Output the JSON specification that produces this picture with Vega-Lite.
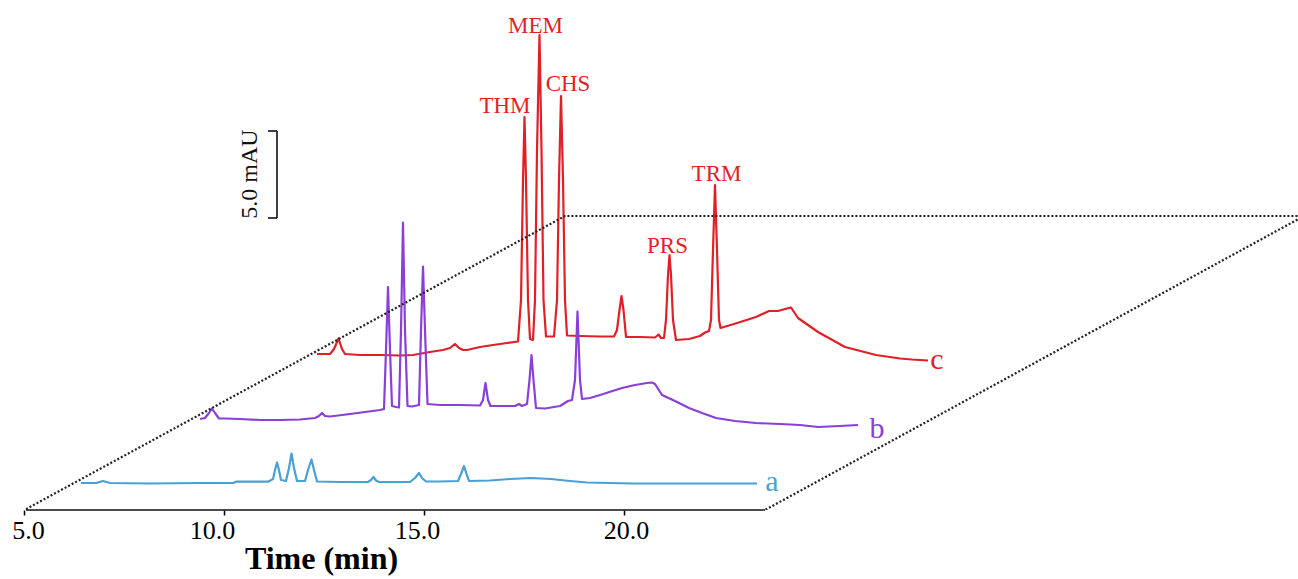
{
  "$schema": "https://vega.github.io/schema/vega-lite/v6.json",
  "width": 1298,
  "height": 510,
  "autosize": {"type": "none"},
  "padding": {"left": 0, "top": 0, "right": 0, "bottom": 69},
  "background": "white",
  "config": {"view": {"stroke": null}},
  "datasets": {
    "frame": [
      {"i": 1, "t": 5.05, "s": 0.05},
      {"i": 2, "t": 18.525, "s": 16.897},
      {"i": 3, "t": 37.0, "s": 16.897},
      {"i": 4, "t": 23.525, "s": 0}
    ],
    "rules": [
      {"part": "axis", "t": 5.05, "s": 0, "t2": 23.525, "s2": 0},
      {"part": "bar", "t": 11.325, "s": 16.782, "t2": 11.325, "s2": 21.782},
      {"part": "bar", "t": 11.1, "s": 21.782, "t2": 11.325, "s2": 21.782},
      {"part": "bar", "t": 11.1, "s": 16.782, "t2": 11.325, "s2": 16.782}
    ],
    "barlabel": [{"label": "5.0 mAU", "t": 10.65, "s": 19.31}],
    "peaks": [
      {"label": "THM", "t": 17.025, "s": 22.816},
      {"label": "MEM", "t": 17.7875, "s": 27.414},
      {"label": "CHS", "t": 18.6, "s": 24.08},
      {"label": "PRS", "t": 21.0875, "s": 14.77},
      {"label": "TRM", "t": 22.3125, "s": 18.908}
    ],
    "tracelabels": [
      {"trace": "a", "t": 23.7, "s": 1.092},
      {"trace": "b", "t": 26.325, "s": 4.138},
      {"trace": "c", "t": 27.825, "s": 8.103}
    ],
    "traces": [
      {"trace":"c","t":12.325,"s":8.966},{"trace":"c","t":12.65,"s":8.966},{"trace":"c","t":12.75,"s":9.253},{"trace":"c","t":12.8625,"s":9.856},{"trace":"c","t":12.95,"s":9.253},{"trace":"c","t":13.025,"s":8.966},{"trace":"c","t":13.4,"s":8.908},{"trace":"c","t":13.9,"s":8.908},{"trace":"c","t":14.4,"s":8.879},{"trace":"c","t":14.725,"s":8.908},{"trace":"c","t":15.15,"s":9.08},{"trace":"c","t":15.475,"s":9.195},{"trace":"c","t":15.65,"s":9.31},{"trace":"c","t":15.775,"s":9.54},{"trace":"c","t":15.875,"s":9.31},{"trace":"c","t":15.975,"s":9.195},{"trace":"c","t":16.075,"s":9.195},{"trace":"c","t":16.4,"s":9.368},{"trace":"c","t":16.725,"s":9.483},{"trace":"c","t":17.075,"s":9.598},{"trace":"c","t":17.35,"s":9.684},{"trace":"c","t":17.425,"s":12.069},{"trace":"c","t":17.475,"s":18.966},{"trace":"c","t":17.5125,"s":22.586},{"trace":"c","t":17.55,"s":18.966},{"trace":"c","t":17.6,"s":12.069},{"trace":"c","t":17.65,"s":9.828},{"trace":"c","t":17.725,"s":9.77},{"trace":"c","t":17.775,"s":12.069},{"trace":"c","t":17.825,"s":20.69},{"trace":"c","t":17.8875,"s":27.299},{"trace":"c","t":17.9375,"s":20.69},{"trace":"c","t":17.9875,"s":12.069},{"trace":"c","t":18.05,"s":9.971},{"trace":"c","t":18.25,"s":9.971},{"trace":"c","t":18.325,"s":12.069},{"trace":"c","t":18.375,"s":18.966},{"trace":"c","t":18.425,"s":23.793},{"trace":"c","t":18.475,"s":18.966},{"trace":"c","t":18.525,"s":12.069},{"trace":"c","t":18.575,"s":10.029},{"trace":"c","t":18.9,"s":10.0},{"trace":"c","t":19.4,"s":9.971},{"trace":"c","t":19.75,"s":9.971},{"trace":"c","t":19.825,"s":10.345},{"trace":"c","t":19.8875,"s":11.494},{"trace":"c","t":19.9375,"s":12.299},{"trace":"c","t":19.9875,"s":11.494},{"trace":"c","t":20.05,"s":9.943},{"trace":"c","t":20.4,"s":9.943},{"trace":"c","t":20.775,"s":9.914},{"trace":"c","t":20.8625,"s":10.086},{"trace":"c","t":20.925,"s":9.885},{"trace":"c","t":21.0,"s":9.885},{"trace":"c","t":21.05,"s":10.92},{"trace":"c","t":21.1,"s":13.506},{"trace":"c","t":21.1375,"s":14.655},{"trace":"c","t":21.175,"s":13.506},{"trace":"c","t":21.225,"s":10.92},{"trace":"c","t":21.3,"s":9.77},{"trace":"c","t":21.625,"s":9.828},{"trace":"c","t":21.9,"s":10.0},{"trace":"c","t":22.025,"s":10.201},{"trace":"c","t":22.125,"s":10.287},{"trace":"c","t":22.175,"s":10.92},{"trace":"c","t":22.225,"s":14.943},{"trace":"c","t":22.275,"s":18.678},{"trace":"c","t":22.325,"s":14.943},{"trace":"c","t":22.375,"s":10.92},{"trace":"c","t":22.4125,"s":10.46},{"trace":"c","t":22.75,"s":10.69},{"trace":"c","t":23.3,"s":11.092},{"trace":"c","t":23.625,"s":11.437},{"trace":"c","t":23.85,"s":11.437},{"trace":"c","t":24.025,"s":11.552},{"trace":"c","t":24.175,"s":11.638},{"trace":"c","t":24.35,"s":11.034},{"trace":"c","t":24.85,"s":10.23},{"trace":"c","t":25.525,"s":9.368},{"trace":"c","t":26.3,"s":8.908},{"trace":"c","t":26.9,"s":8.707},{"trace":"c","t":27.2,"s":8.649},{"trace":"c","t":27.6,"s":8.592},
      {"trace":"b","t":9.4,"s":5.23},{"trace":"b","t":9.525,"s":5.287},{"trace":"b","t":9.625,"s":5.575},{"trace":"b","t":9.7,"s":5.833},{"trace":"b","t":9.775,"s":5.575},{"trace":"b","t":9.875,"s":5.259},{"trace":"b","t":10.025,"s":5.259},{"trace":"b","t":10.4,"s":5.23},{"trace":"b","t":10.9,"s":5.172},{"trace":"b","t":11.4,"s":5.172},{"trace":"b","t":11.9,"s":5.201},{"trace":"b","t":12.275,"s":5.287},{"trace":"b","t":12.375,"s":5.402},{"trace":"b","t":12.45,"s":5.575},{"trace":"b","t":12.525,"s":5.402},{"trace":"b","t":12.65,"s":5.374},{"trace":"b","t":13.15,"s":5.517},{"trace":"b","t":13.525,"s":5.632},{"trace":"b","t":13.9,"s":5.747},{"trace":"b","t":14.0,"s":5.805},{"trace":"b","t":14.05,"s":9.195},{"trace":"b","t":14.1,"s":12.816},{"trace":"b","t":14.15,"s":9.195},{"trace":"b","t":14.2,"s":5.977},{"trace":"b","t":14.3,"s":5.92},{"trace":"b","t":14.375,"s":5.891},{"trace":"b","t":14.425,"s":10.345},{"trace":"b","t":14.475,"s":16.523},{"trace":"b","t":14.525,"s":10.345},{"trace":"b","t":14.5875,"s":5.977},{"trace":"b","t":14.7,"s":5.948},{"trace":"b","t":14.875,"s":6.034},{"trace":"b","t":14.925,"s":10.345},{"trace":"b","t":14.975,"s":13.994},{"trace":"b","t":15.025,"s":10.345},{"trace":"b","t":15.0875,"s":6.092},{"trace":"b","t":15.4,"s":6.034},{"trace":"b","t":15.9,"s":6.034},{"trace":"b","t":16.4,"s":6.006},{"trace":"b","t":16.475,"s":6.322},{"trace":"b","t":16.5375,"s":7.299},{"trace":"b","t":16.6,"s":6.322},{"trace":"b","t":16.6625,"s":5.977},{"trace":"b","t":16.9,"s":5.977},{"trace":"b","t":17.275,"s":5.977},{"trace":"b","t":17.375,"s":6.092},{"trace":"b","t":17.45,"s":5.977},{"trace":"b","t":17.575,"s":6.092},{"trace":"b","t":17.6375,"s":7.471},{"trace":"b","t":17.6875,"s":8.908},{"trace":"b","t":17.7375,"s":7.471},{"trace":"b","t":17.8,"s":5.862},{"trace":"b","t":18.025,"s":5.833},{"trace":"b","t":18.4,"s":5.977},{"trace":"b","t":18.6,"s":6.264},{"trace":"b","t":18.7,"s":6.322},{"trace":"b","t":18.775,"s":7.471},{"trace":"b","t":18.8375,"s":11.408},{"trace":"b","t":18.9,"s":7.471},{"trace":"b","t":18.95,"s":6.379},{"trace":"b","t":19.15,"s":6.437},{"trace":"b","t":19.4,"s":6.609},{"trace":"b","t":19.95,"s":7.011},{"trace":"b","t":20.275,"s":7.184},{"trace":"b","t":20.575,"s":7.299},{"trace":"b","t":20.7,"s":7.328},{"trace":"b","t":20.775,"s":7.241},{"trace":"b","t":20.95,"s":6.609},{"trace":"b","t":21.275,"s":6.264},{"trace":"b","t":21.625,"s":5.862},{"trace":"b","t":21.95,"s":5.575},{"trace":"b","t":22.3,"s":5.287},{"trace":"b","t":22.775,"s":5.115},{"trace":"b","t":23.3,"s":5.0},{"trace":"b","t":23.9,"s":4.943},{"trace":"b","t":24.4,"s":4.885},{"trace":"b","t":24.85,"s":4.77},{"trace":"b","t":25.4,"s":4.828},{"trace":"b","t":25.85,"s":4.885},
      {"trace":"a","t":6.425,"s":1.552},{"trace":"a","t":6.8,"s":1.552},{"trace":"a","t":6.975,"s":1.667},{"trace":"a","t":7.15,"s":1.552},{"trace":"a","t":8.15,"s":1.523},{"trace":"a","t":9.4,"s":1.552},{"trace":"a","t":10.225,"s":1.552},{"trace":"a","t":10.3,"s":1.626},{"trace":"a","t":11.1,"s":1.626},{"trace":"a","t":11.225,"s":1.782},{"trace":"a","t":11.2875,"s":2.414},{"trace":"a","t":11.325,"s":2.73},{"trace":"a","t":11.3625,"s":2.414},{"trace":"a","t":11.425,"s":1.724},{"trace":"a","t":11.55,"s":1.667},{"trace":"a","t":11.625,"s":2.414},{"trace":"a","t":11.6875,"s":3.247},{"trace":"a","t":11.75,"s":2.414},{"trace":"a","t":11.825,"s":1.667},{"trace":"a","t":12.025,"s":1.667},{"trace":"a","t":12.1,"s":2.299},{"trace":"a","t":12.1875,"s":2.902},{"trace":"a","t":12.25,"s":2.299},{"trace":"a","t":12.325,"s":1.638},{"trace":"a","t":12.9,"s":1.609},{"trace":"a","t":13.6,"s":1.609},{"trace":"a","t":13.675,"s":1.724},{"trace":"a","t":13.7375,"s":1.897},{"trace":"a","t":13.8,"s":1.695},{"trace":"a","t":13.875,"s":1.609},{"trace":"a","t":14.65,"s":1.609},{"trace":"a","t":14.775,"s":1.839},{"trace":"a","t":14.875,"s":2.126},{"trace":"a","t":14.95,"s":1.839},{"trace":"a","t":15.05,"s":1.638},{"trace":"a","t":15.4,"s":1.638},{"trace":"a","t":15.85,"s":1.667},{"trace":"a","t":15.925,"s":2.069},{"trace":"a","t":16.0,"s":2.529},{"trace":"a","t":16.0625,"s":2.069},{"trace":"a","t":16.125,"s":1.667},{"trace":"a","t":16.65,"s":1.695},{"trace":"a","t":17.15,"s":1.782},{"trace":"a","t":17.675,"s":1.839},{"trace":"a","t":18.175,"s":1.782},{"trace":"a","t":18.65,"s":1.667},{"trace":"a","t":19.075,"s":1.58},{"trace":"a","t":20.225,"s":1.523},{"trace":"a","t":21.9,"s":1.523},{"trace":"a","t":23.325,"s":1.523}
    ]
  },
  "layer": [
    {
      "data": {"name": "traces"},
      "mark": {"type": "line", "strokeWidth": 2.2, "strokeJoin": "round"},
      "encoding": {
        "x": {
          "field": "t", "type": "quantitative",
          "scale": {"domain": [4.4, 36.85], "nice": false, "zero": false},
          "axis": {
            "values": [5, 10, 15, 20], "format": ".1f",
            "domain": false, "grid": false, "ticks": true,
            "tickSize": 5, "tickColor": "#000", "tickWidth": 1.5,
            "labelFont": "Liberation Serif", "labelFontSize": 26, "labelColor": "#000",
            "labelPadding": 2, "labelFlush": false, "labelOverlap": false,
            "labelOffset": {
              "condition": [
                {"test": "datum.value == 5", "value": 4},
                {"test": "datum.value == 10", "value": -12},
                {"test": "datum.value == 15", "value": -7}
              ],
              "value": 2
            },
            "title": "Time (min)", "titleFont": "Liberation Serif", "titleFontSize": 32,
            "titleFontWeight": "bold", "titleColor": "#000",
            "titleX": 321, "titleY": 58, "titleBaseline": "alphabetic", "titleAlign": "center"
          }
        },
        "y": {
          "field": "s", "type": "quantitative",
          "scale": {"domain": [0, 29.31], "nice": false, "zero": false},
          "axis": null
        },
        "color": {
          "field": "trace", "type": "nominal",
          "scale": {"domain": ["a", "b", "c"], "range": ["#4a9fd6", "#8a3fd6", "#e11f26"]},
          "legend": null
        }
      }
    },
    {
      "data": {"name": "frame"},
      "mark": {"type": "line", "strokeDash": [2, 2], "strokeWidth": 2.2, "color": "#222", "clip": true},
      "encoding": {
        "x": {"field": "t", "type": "quantitative"},
        "y": {"field": "s", "type": "quantitative"},
        "order": {"field": "i", "type": "quantitative"}
      }
    },
    {
      "data": {"name": "rules"},
      "mark": {"type": "rule", "strokeWidth": 1.6, "color": "#111"},
      "encoding": {
        "x": {"field": "t", "type": "quantitative"},
        "y": {"field": "s", "type": "quantitative"},
        "x2": {"field": "t2"},
        "y2": {"field": "s2"}
      }
    },
    {
      "data": {"name": "barlabel"},
      "mark": {"type": "text", "angle": 270, "align": "center", "baseline": "middle", "font": "Liberation Serif", "fontSize": 24, "color": "#111"},
      "encoding": {
        "x": {"field": "t", "type": "quantitative"},
        "y": {"field": "s", "type": "quantitative"},
        "text": {"field": "label"}
      }
    },
    {
      "data": {"name": "peaks"},
      "mark": {"type": "text", "align": "center", "baseline": "alphabetic", "font": "Liberation Serif", "fontSize": 23, "color": "#e11f26"},
      "encoding": {
        "x": {"field": "t", "type": "quantitative"},
        "y": {"field": "s", "type": "quantitative"},
        "text": {"field": "label"}
      }
    },
    {
      "data": {"name": "tracelabels"},
      "mark": {"type": "text", "align": "center", "baseline": "alphabetic", "font": "Liberation Serif", "fontSize": 30},
      "encoding": {
        "x": {"field": "t", "type": "quantitative"},
        "y": {"field": "s", "type": "quantitative"},
        "text": {"field": "trace"},
        "color": {"field": "trace", "type": "nominal", "legend": null}
      }
    }
  ]
}
